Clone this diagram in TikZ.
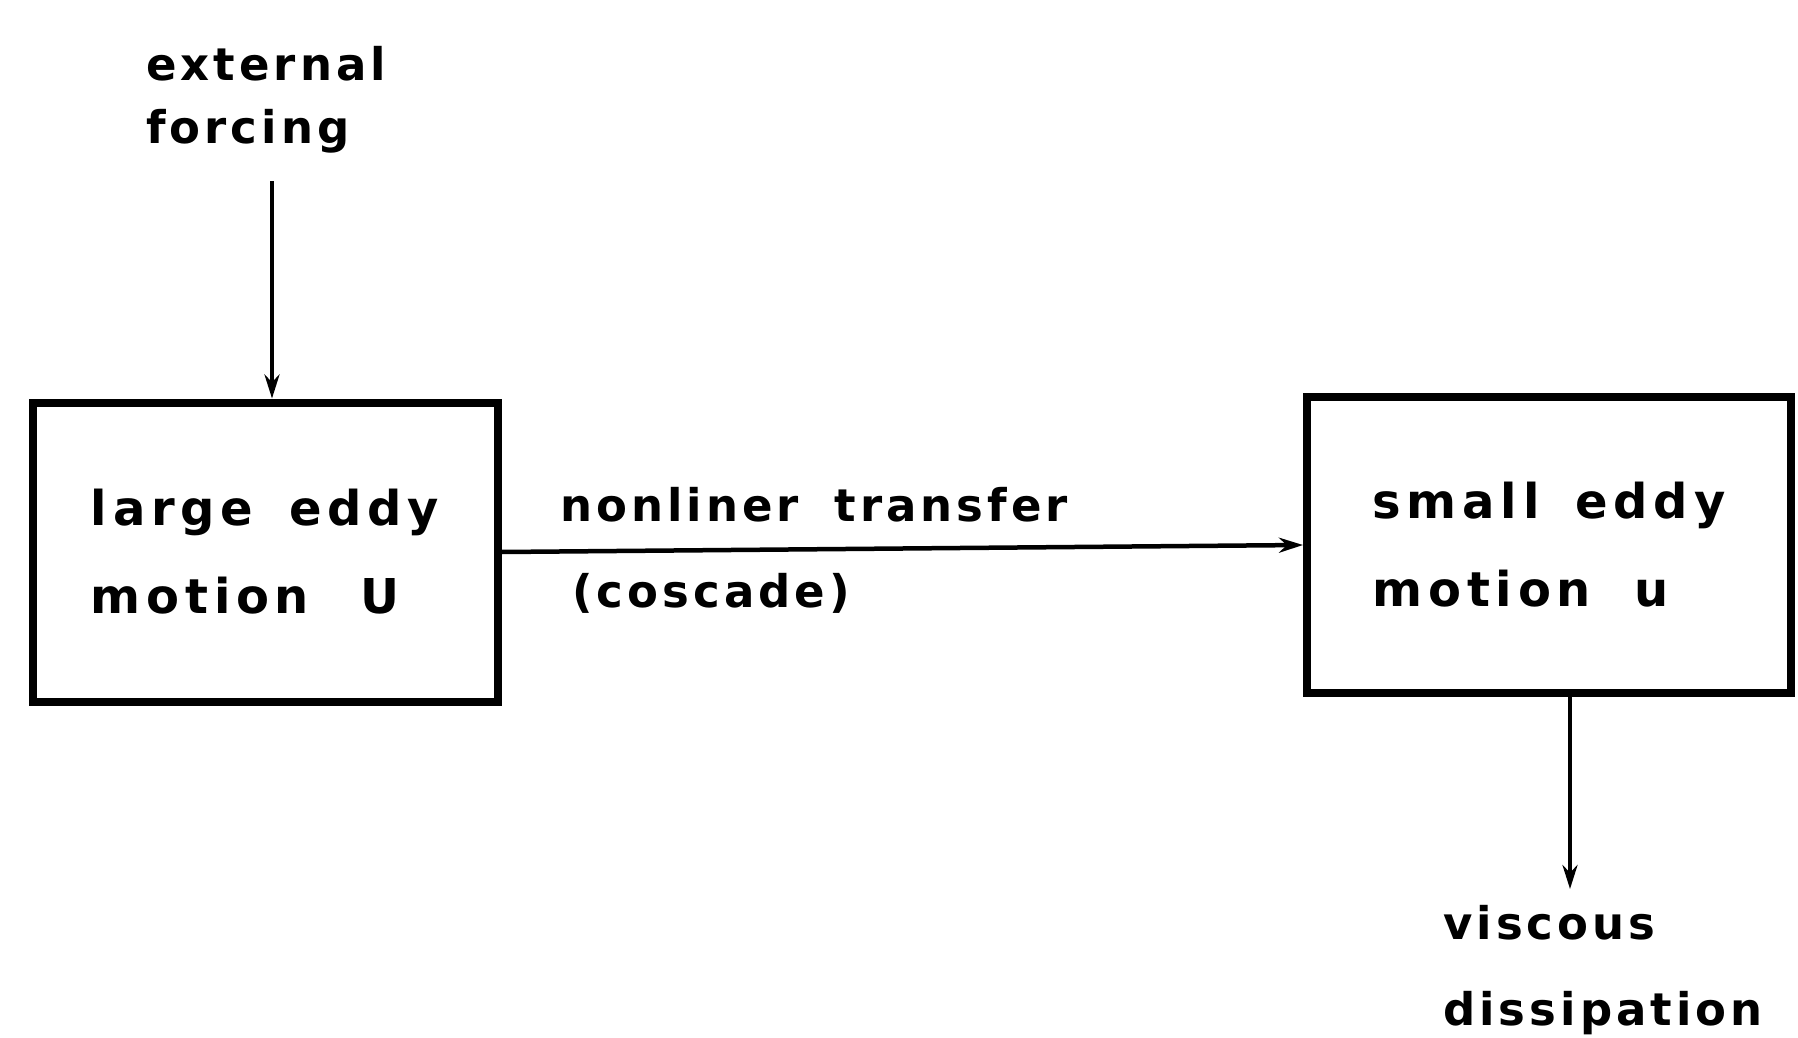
\documentclass[tikz,border=0pt]{standalone}
\usepackage{fontspec}
\setmainfont{DejaVu Sans}[LetterSpace=9, WordSpace=1.8]
\newfontfamily\eddyfont{DejaVu Sans}[LetterSpace=12, WordSpace=1.6]
\usetikzlibrary{arrows.meta}
\begin{document}
\begin{tikzpicture}[x=1pt,y=-1pt,
  lbl/.style={font=\fontsize{45}{88}\selectfont\bfseries, inner sep=0pt, align=left},
  eddybox/.style={draw, line width=8pt, inner sep=0pt,
    font=\eddyfont\fontsize{48}{88}\selectfont\bfseries, align=left},
  flow/.style={line width=4.5pt, -{Stealth[length=24pt,width=15pt]}}]
\useasboundingbox (0,0) rectangle (1798,1038);
\node[eddybox, minimum width=465pt, minimum height=299pt] (L) at (265,552) {large eddy\\motion\hspace{51pt}U};
\node[eddybox, minimum width=484pt, minimum height=296pt] (R) at (1549,545) {small eddy\\motion\hspace{44pt}u};
\node[lbl, anchor=west, font=\fontsize{45}{63}\selectfont\bfseries] (ext) at (146,100) {external\\forcing};
\node[lbl, anchor=west] (nl) at (560,505) {nonliner transfer};
\node[lbl, anchor=west] (cas) at (572,593) {(coscade)};
\node[lbl, anchor=west, font=\fontsize{45}{86}\selectfont\bfseries] (visc) at (1443,970) {viscous\\dissipation};
\coordinate (top) at (272,181);
\coordinate (bot) at (1570,889);
\draw[flow] (top) -- (top |- L.north);
\draw[flow] (L.east) -- (R.west);
\draw[flow] (bot |- R.south) -- (bot);
\end{tikzpicture}
\end{document}
